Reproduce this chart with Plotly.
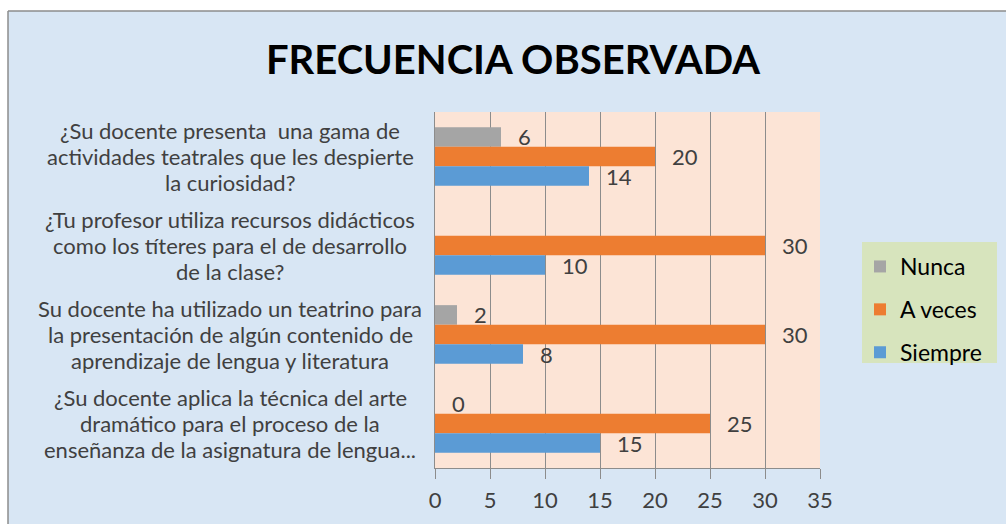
import plotly.graph_objects as go

# Survey questions, top to bottom (lines of each wrapped label)
categories = [
    ["¿Su docente presenta  una gama de", "actividades teatrales que les despierte", "la curiosidad?"],
    ["¿Tu profesor utiliza recursos didácticos", "como los títeres para el de desarrollo", "de la clase?"],
    ["Su docente ha utilizado un teatrino para", "la presentación de algún contenido de", "aprendizaje de lengua y literatura"],
    ["¿Su docente aplica la técnica del arte", "dramático para el proceso de la", "enseñanza de la asignatura de lengua..."],
]
cat_ids = ["q1", "q2", "q3", "q4"]

series_names = ["Nunca", "A veces", "Siempre"]
nunca = [6, None, 2, 0]
a_veces = [20, 30, 30, 25]
siempre = [14, 10, 8, 15]
series_values = [nunca, a_veces, siempre]
series_colors = ["#A5A5A5", "#ED7D31", "#5B9BD5"]

x_ticks = [0, 5, 10, 15, 20, 25, 30, 35]

W, H = 1006, 524
ML, MR, MT, MB = 435, 186, 112, 56
PW, PH = W - ML - MR, H - MT - MB


def px(x):
    return (x - ML) / PW


def py(y):
    return 1 - (y - MT) / PH


TEXT = "#404040"
FONT = "Lato"

fig = go.Figure()
for name, vals, col in zip(series_names, series_values, series_colors):
    fig.add_trace(go.Bar(
        y=cat_ids, x=vals, name=name, orientation="h",
        marker=dict(color=col, line=dict(width=0)),
        legendgroup=name,
    ))

# value labels beside each bar end
bar_px = PH / len(categories) * 0.66 / 3
for i, vals in enumerate(series_values):
    shift = (1 - i) * bar_px
    for c, v in zip(cat_ids, vals):
        if v is None:
            continue
        fig.add_annotation(x=v, y=c, xref="x", yref="y", text=str(v),
                           showarrow=False, xanchor="left", xshift=15,
                           yshift=shift, font=dict(family=FONT, size=22, color=TEXT))

# category labels, centred lines with fixed line pitch
LINE = 26
for c, lines in zip(cat_ids, categories):
    n = len(lines)
    for j, line in enumerate(lines):
        fig.add_annotation(x=px(230), y=c, xref="paper", yref="y", text=line,
                           showarrow=False, xanchor="center", align="center",
                           yshift=((n - 1) / 2 - j) * LINE,
                           font=dict(family=FONT, size=22, color=TEXT))

shapes = [
    # white page margin above and left of the chart frame
    dict(type="rect", xref="paper", yref="paper", x0=px(0), x1=px(W), y0=py(0), y1=py(11),
         fillcolor="white", line=dict(width=0), layer="below"),
    dict(type="rect", xref="paper", yref="paper", x0=px(0), x1=px(8), y0=py(0), y1=py(H),
         fillcolor="white", line=dict(width=0), layer="below"),
    # frame border
    dict(type="line", xref="paper", yref="paper", x0=px(8), x1=px(W), y0=py(11), y1=py(11),
         line=dict(color="#8c8c8c", width=1.5)),
    dict(type="line", xref="paper", yref="paper", x0=px(8), x1=px(8), y0=py(11), y1=py(H),
         line=dict(color="#8c8c8c", width=1.5)),
    # legend box
    dict(type="rect", xref="paper", yref="paper", x0=px(862), x1=px(997), y0=py(242), y1=py(363),
         fillcolor="#D7E4BD", line=dict(width=0), layer="below"),
]

fig.update_layout(
    width=W, height=H,
    margin=dict(l=ML, r=MR, t=MT, b=MB, pad=0),
    paper_bgcolor="#D8E6F4",
    plot_bgcolor="#FCE4D6",
    barmode="group", bargap=0.34, bargroupgap=0,
    title=dict(text="<b>FRECUENCIA OBSERVADA</b>", x=px(513), xref="paper", xanchor="center",
               y=1 - 60 / H, yanchor="middle",
               font=dict(family=FONT, size=40, color="black")),
    showlegend=True,
    legend=dict(x=px(860), y=py(245), xanchor="left", yanchor="top",
                bgcolor="rgba(0,0,0,0)", traceorder="grouped", tracegroupgap=10,
                font=dict(family=FONT, size=23, color="black")),
    xaxis=dict(range=[0, 35], tickvals=x_ticks, ticktext=[str(t) for t in x_ticks],
               showgrid=True, gridcolor="#8C8C8C", gridwidth=1,
               showline=True, linecolor="#8C8C8C", linewidth=1,
               ticks="outside", ticklen=10, tickcolor="#8C8C8C",
               ticklabelstandoff=3,
               tickfont=dict(family=FONT, size=22, color=TEXT), zeroline=False,
               fixedrange=True),
    yaxis=dict(categoryorder="array", categoryarray=cat_ids, autorange="reversed",
               showticklabels=False, showgrid=False, zeroline=False,
               showline=True, linecolor="#8C8C8C", linewidth=1, fixedrange=True),
    shapes=shapes,
)

fig.write_html("out.html")
